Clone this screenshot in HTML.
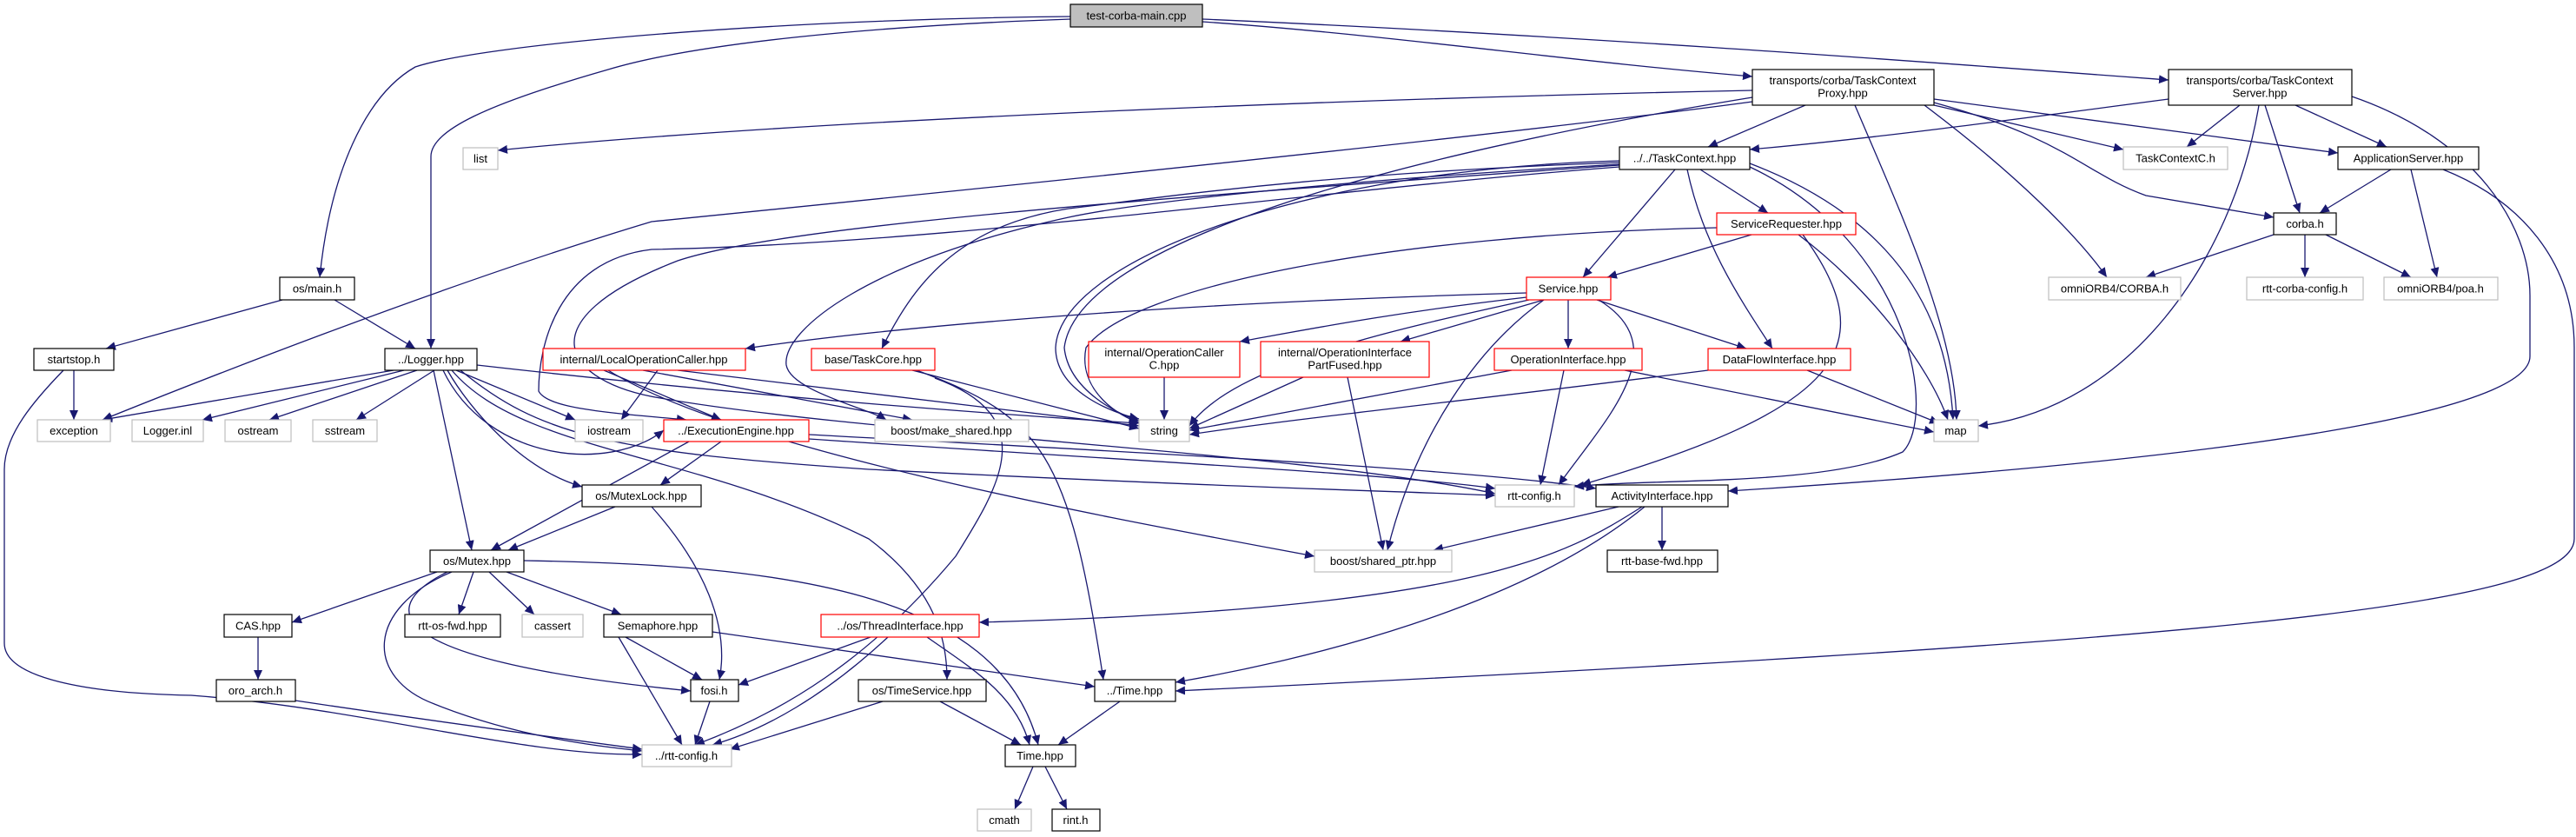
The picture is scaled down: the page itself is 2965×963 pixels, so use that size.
<!DOCTYPE html>
<html><head><meta charset="utf-8"><style>
html,body{margin:0;padding:0;background:#fff;}
svg{display:block;}
text{font-family:"Liberation Sans",sans-serif;font-size:13px;fill:#000;text-anchor:middle;}
.e{fill:none;stroke:#191970;stroke-width:1.3;marker-end:url(#a);}
.n{fill:#fff;stroke:#000;stroke-width:1.2;}
.r{fill:#fff;stroke:#ff0000;stroke-width:1.2;}
.g{fill:#fff;stroke:#bfbfbf;stroke-width:1.2;}
</style></head><body>
<svg width="2965" height="963" viewBox="0 0 2965 963" xmlns="http://www.w3.org/2000/svg">
<defs><marker id="a" markerUnits="userSpaceOnUse" markerWidth="12" markerHeight="10" refX="11" refY="5" orient="auto"><path d="M0,0 L11,5 L0,10 z" fill="#191970"/></marker></defs>
<g>
<path class="e" d="M1232,19 C900,22 560,50 478,77 C420,110 380,200 368,319"/>
<path class="e" d="M1232,22 C1000,30 800,50 700,80 C560,120 496,150 496,180 L496,401"/>
<path class="e" d="M1384,25 C1600,40 1800,70 2017,88"/>
<path class="e" d="M1384,22 C1800,40 2200,70 2496,92"/>
<path class="e" d="M2017,104 C1500,115 900,140 573,173"/>
<path class="e" d="M2017,117 C1700,160 1000,230 750,255 C500,330 200,450 118,483"/>
<path class="e" d="M2078,121 L1966,169"/>
<path class="e" d="M2017,112 C1600,180 1240,280 1225,400 C1230,450 1290,478 1311,484"/>
<path class="e" d="M2135,121 C2190,250 2250,380 2252,483"/>
<path class="e" d="M2226,121 L2444,172"/>
<path class="e" d="M2226,114 L2691,176"/>
<path class="e" d="M2226,118 C2380,160 2400,200 2470,225 L2617,250"/>
<path class="e" d="M2215,121 C2320,200 2390,270 2425,319"/>
<path class="e" d="M2496,114 C2300,140 2150,160 2014,172"/>
<path class="e" d="M2578,121 L2517,169"/>
<path class="e" d="M2607,121 L2647,245"/>
<path class="e" d="M2642,121 L2747,169"/>
<path class="e" d="M2600,121 C2570,300 2450,470 2277,490"/>
<path class="e" d="M2707,111 C2850,160 2912,260 2912,340 L2912,410 C2912,460 2700,520 1989,565"/>
<path class="e" d="M2812,195 C2900,230 2963,300 2963,400 L2963,620 C2963,700 2500,740 1353,795"/>
<path class="e" d="M2752,195 L2670,245"/>
<path class="e" d="M2775,195 L2805,319"/>
<path class="e" d="M2617,270 L2470,319"/>
<path class="e" d="M2653,270 L2653,319"/>
<path class="e" d="M2677,270 L2775,319"/>
<path class="e" d="M1957,195 L2035,245"/>
<path class="e" d="M1928,195 L1822,319"/>
<path class="e" d="M1942,195 C1960,280 2000,340 2040,401"/>
<path class="e" d="M2014,188 C2150,240 2240,330 2248,483"/>
<path class="e" d="M2014,192 C2200,280 2230,480 2190,520 C2100,560 1900,550 1812,560"/>
<path class="e" d="M1864,185 C1500,195 1220,300 1215,400 C1215,450 1280,475 1311,482"/>
<path class="e" d="M1864,187 C1500,200 1320,230 1230,240 C1100,260 1050,330 1015,401"/>
<path class="e" d="M1864,189 C1500,210 1300,235 1230,250 C1000,300 900,380 905,420 C910,450 1000,470 1020,483"/>
<path class="e" d="M1864,192 C1500,220 1100,280 750,287 C640,300 620,400 620,450 C630,470 700,475 790,483"/>
<path class="e" d="M1864,190 C1300,230 900,260 780,300 C600,370 650,440 760,458 C1000,500 1500,520 1721,568"/>
<path class="e" d="M2016,270 L1850,319"/>
<path class="e" d="M1976,262 C1600,270 1300,330 1250,400 C1240,450 1290,480 1311,486"/>
<path class="e" d="M2070,270 C2150,330 2220,420 2242,483"/>
<path class="e" d="M2075,270 C2170,400 2120,470 1820,558"/>
<path class="e" d="M1757,337 C1300,350 1000,380 858,401"/>
<path class="e" d="M1757,342 C1600,360 1500,380 1427,393"/>
<path class="e" d="M1777,345 L1612,393"/>
<path class="e" d="M1805,345 L1805,401"/>
<path class="e" d="M1838,345 L2010,401"/>
<path class="e" d="M1760,345 C1600,380 1420,420 1369,490"/>
<path class="e" d="M1777,345 C1700,400 1630,500 1597,633"/>
<path class="e" d="M1840,345 C1930,400 1850,480 1794,558"/>
<path class="e" d="M1340,434 L1340,483"/>
<path class="e" d="M1500,434 L1369,493"/>
<path class="e" d="M1551,434 L1592,633"/>
<path class="e" d="M1740,426 L1369,495"/>
<path class="e" d="M1800,426 L1773,558"/>
<path class="e" d="M1870,426 L2226,497"/>
<path class="e" d="M1966,426 C1700,460 1500,480 1369,500"/>
<path class="e" d="M2080,426 L2232,487"/>
<path class="e" d="M757,426 L715,483"/>
<path class="e" d="M695,426 L830,483"/>
<path class="e" d="M780,426 L1311,490"/>
<path class="e" d="M740,426 L1050,483"/>
<path class="e" d="M700,426 C850,520 1300,600 1513,640"/>
<path class="e" d="M1050,426 L1311,493"/>
<path class="e" d="M1076,435 C1200,480 1150,560 1100,640 C1000,760 900,820 800,857"/>
<path class="e" d="M1055,426 C1200,480 1230,520 1270,782"/>
<path class="e" d="M549,420 C900,460 1200,480 1311,487"/>
<path class="e" d="M453,426 L118,483"/>
<path class="e" d="M465,426 L233,483"/>
<path class="e" d="M480,426 L310,483"/>
<path class="e" d="M500,426 L410,483"/>
<path class="e" d="M525,426 L662,483"/>
<path class="e" d="M499,426 L543,633"/>
<path class="e" d="M515,426 C540,470 600,540 670,560"/>
<path class="e" d="M510,426 C560,530 700,545 764,495"/>
<path class="e" d="M530,426 C620,500 700,520 1000,540 C1400,560 1600,565 1721,570"/>
<path class="e" d="M520,426 C600,520 800,520 1000,620 C1080,680 1090,740 1090,782"/>
<path class="e" d="M325,345 L122,401"/>
<path class="e" d="M385,345 L478,401"/>
<path class="e" d="M85,426 L85,483"/>
<path class="e" d="M73,426 C40,460 5,500 5,540 L5,740 C5,780 100,798 220,800 C420,815 600,870 739,868"/>
<path class="e" d="M793,508 L565,633"/>
<path class="e" d="M830,508 L760,558"/>
<path class="e" d="M931,505 C1300,530 1600,545 1721,562"/>
<path class="e" d="M931,500 C1300,520 1700,540 1837,562"/>
<path class="e" d="M708,583 L585,633"/>
<path class="e" d="M750,583 C810,650 840,720 828,782"/>
<path class="e" d="M503,658 L336,716"/>
<path class="e" d="M545,658 L528,707"/>
<path class="e" d="M563,658 L615,707"/>
<path class="e" d="M583,658 L715,707"/>
<path class="e" d="M515,658 C430,700 440,760 795,795"/>
<path class="e" d="M520,658 C420,700 420,780 500,810 C600,850 700,860 739,864"/>
<path class="e" d="M603,645 C900,650 1150,680 1195,857"/>
<path class="e" d="M297,733 L297,782"/>
<path class="e" d="M340,806 C500,830 650,850 739,862"/>
<path class="e" d="M720,733 L808,782"/>
<path class="e" d="M712,733 L785,857"/>
<path class="e" d="M820,727 L1260,790"/>
<path class="e" d="M1002,733 L850,788"/>
<path class="e" d="M1022,733 C950,800 880,840 820,857"/>
<path class="e" d="M1067,733 C1120,770 1170,800 1185,857"/>
<path class="e" d="M817,807 L800,857"/>
<path class="e" d="M1016,807 L840,862"/>
<path class="e" d="M1082,807 L1175,857"/>
<path class="e" d="M1289,807 L1218,857"/>
<path class="e" d="M1189,882 L1168,931"/>
<path class="e" d="M1203,882 L1228,931"/>
<path class="e" d="M1863,583 L1650,633"/>
<path class="e" d="M1913,583 L1913,633"/>
<path class="e" d="M1890,583 C1800,640 1700,700 1127,716"/>
<path class="e" d="M1893,583 C1750,700 1500,760 1353,785"/>
</g>
<g>
<rect x="1232" y="5" width="152" height="26" fill="#bfbfbf" stroke="#000" stroke-width="1.2"/><text x="1308" y="22.5">test-corba-main.cpp</text>
<rect class="n" x="2017" y="80" width="209" height="41"/><text x="2121" y="97">transports/corba/TaskContext</text><text x="2121" y="111.5">Proxy.hpp</text>
<rect class="n" x="2496" y="80" width="211" height="41"/><text x="2601" y="97">transports/corba/TaskContext</text><text x="2601" y="111.5">Server.hpp</text>
<rect class="g" x="533" y="170" width="40" height="25"/><text x="553" y="187">list</text>
<rect class="n" x="1864" y="169" width="150" height="26"/><text x="1939" y="186.5">../../TaskContext.hpp</text>
<rect class="g" x="2444" y="169" width="120" height="26"/><text x="2504" y="186.5">TaskContextC.h</text>
<rect class="n" x="2691" y="169" width="162" height="26"/><text x="2772" y="186.5">ApplicationServer.hpp</text>
<rect class="r" x="1976" y="245" width="160" height="25"/><text x="2056" y="262">ServiceRequester.hpp</text>
<rect class="n" x="2617" y="245" width="72" height="25"/><text x="2653" y="262">corba.h</text>
<rect class="r" x="1757" y="319" width="97" height="26"/><text x="1805" y="336.5">Service.hpp</text>
<rect class="g" x="2358" y="319" width="152" height="26"/><text x="2434" y="336.5">omniORB4/CORBA.h</text>
<rect class="g" x="2586" y="319" width="134" height="26"/><text x="2653" y="336.5">rtt-corba-config.h</text>
<rect class="g" x="2744" y="319" width="131" height="26"/><text x="2809" y="336.5">omniORB4/poa.h</text>
<rect class="n" x="322" y="319" width="86" height="26"/><text x="365" y="336.5">os/main.h</text>
<rect class="n" x="39" y="401" width="92" height="25"/><text x="85" y="418">startstop.h</text>
<rect class="n" x="443" y="401" width="106" height="25"/><text x="496" y="418">../Logger.hpp</text>
<rect class="r" x="625" y="401" width="233" height="25"/><text x="741" y="418">internal/LocalOperationCaller.hpp</text>
<rect class="r" x="934" y="401" width="142" height="25"/><text x="1005" y="418">base/TaskCore.hpp</text>
<rect class="r" x="1253" y="393" width="174" height="41"/><text x="1340" y="410">internal/OperationCaller</text><text x="1340" y="424.5">C.hpp</text>
<rect class="r" x="1451" y="393" width="194" height="41"/><text x="1548" y="410">internal/OperationInterface</text><text x="1548" y="424.5">PartFused.hpp</text>
<rect class="r" x="1720" y="401" width="170" height="25"/><text x="1805" y="418">OperationInterface.hpp</text>
<rect class="r" x="1966" y="401" width="164" height="25"/><text x="2048" y="418">DataFlowInterface.hpp</text>
<rect class="g" x="43" y="483" width="84" height="25"/><text x="85" y="500">exception</text>
<rect class="g" x="152" y="483" width="82" height="25"/><text x="193" y="500">Logger.inl</text>
<rect class="g" x="259" y="483" width="76" height="25"/><text x="297" y="500">ostream</text>
<rect class="g" x="360" y="483" width="74" height="25"/><text x="397" y="500">sstream</text>
<rect class="g" x="662" y="483" width="78" height="25"/><text x="701" y="500">iostream</text>
<rect class="r" x="764" y="483" width="167" height="25"/><text x="847" y="500">../ExecutionEngine.hpp</text>
<rect class="g" x="1007" y="483" width="177" height="25"/><text x="1095" y="500">boost/make_shared.hpp</text>
<rect class="g" x="1311" y="483" width="58" height="25"/><text x="1340" y="500">string</text>
<rect class="g" x="2226" y="483" width="51" height="25"/><text x="2251" y="500">map</text>
<rect class="n" x="670" y="558" width="137" height="25"/><text x="738" y="575">os/MutexLock.hpp</text>
<rect class="g" x="1721" y="558" width="91" height="25"/><text x="1766" y="575">rtt-config.h</text>
<rect class="n" x="1837" y="558" width="152" height="25"/><text x="1913" y="575">ActivityInterface.hpp</text>
<rect class="n" x="495" y="633" width="108" height="25"/><text x="549" y="650">os/Mutex.hpp</text>
<rect class="g" x="1513" y="633" width="158" height="25"/><text x="1592" y="650">boost/shared_ptr.hpp</text>
<rect class="n" x="1850" y="633" width="127" height="25"/><text x="1913" y="650">rtt-base-fwd.hpp</text>
<rect class="n" x="258" y="707" width="78" height="26"/><text x="297" y="724.5">CAS.hpp</text>
<rect class="n" x="466" y="707" width="110" height="26"/><text x="521" y="724.5">rtt-os-fwd.hpp</text>
<rect class="g" x="601" y="707" width="70" height="26"/><text x="636" y="724.5">cassert</text>
<rect class="n" x="695" y="707" width="125" height="26"/><text x="757" y="724.5">Semaphore.hpp</text>
<rect class="r" x="945" y="707" width="182" height="26"/><text x="1036" y="724.5">../os/ThreadInterface.hpp</text>
<rect class="n" x="249" y="782" width="91" height="25"/><text x="294" y="799">oro_arch.h</text>
<rect class="n" x="795" y="782" width="55" height="25"/><text x="822" y="799">fosi.h</text>
<rect class="n" x="988" y="782" width="147" height="25"/><text x="1061" y="799">os/TimeService.hpp</text>
<rect class="n" x="1260" y="782" width="93" height="25"/><text x="1306" y="799">../Time.hpp</text>
<rect class="g" x="739" y="857" width="103" height="25"/><text x="790" y="874">../rtt-config.h</text>
<rect class="n" x="1157" y="857" width="81" height="25"/><text x="1197" y="874">Time.hpp</text>
<rect class="g" x="1125" y="931" width="62" height="25"/><text x="1156" y="948">cmath</text>
<rect class="n" x="1211" y="931" width="55" height="25"/><text x="1238" y="948">rint.h</text>
</g>
</svg>
</body></html>
